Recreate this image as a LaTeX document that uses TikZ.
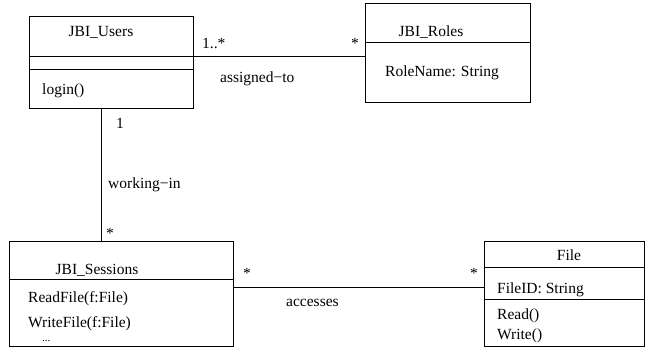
\documentclass[tikz,border=0pt]{standalone}
\usepackage{fontspec}
\setmainfont{Liberation Serif}
\begin{document}
\begin{tikzpicture}[x=1bp, y=-1bp,
        mybox/.style={draw, line width=0.9bp, inner sep=0pt, anchor=north west},
        mytext/.style={inner sep=0pt, anchor=base, font=\rmfamily\fontsize{15.5bp}{18bp}\selectfont},
        myleft/.style={mytext, anchor=base west}
    ]
    \useasboundingbox (0,0) rectangle (645,347);
    % class compartments: name/left/top/width/height
    \foreach \myname/\myx/\myy/\myw/\myh in {%
            usersName/29/16/164/40, usersAttr/29/56/164/13, usersOps/29/69/164/39,
            rolesName/365/3/165/39, rolesAttr/365/42/165/60,
            sessName/9/241/224/38, sessOps/9/279/224/66.5,
            fileName/484/241/160/26, fileAttr/484/267/160/32, fileOps/484/299/160/46.5} {
        \node [mybox, minimum width=\myw bp, minimum height=\myh bp] (\myname) at (\myx,\myy) {};
    }
    % class texts
    \node [mytext] (usersTitle) at (101,36) {JBI\_Users};
    \node [myleft] (usersLogin) at (42,94) {login()};
    \node [mytext] (rolesTitle) at (431,36) {JBI\_Roles};
    \node [myleft] (rolesRole) at (385,76) {RoleName: String};
    \node [mytext] (sessTitle) at (97,274) {JBI\_Sessions};
    \node [myleft] (sessRead) at (28,302) {ReadFile(f:File)};
    \node [myleft] (sessWrite) at (28,327) {WriteFile(f:File)};
    \node [myleft, font=\rmfamily\fontsize{11bp}{12bp}\selectfont] (sessMore) at (42,341) {...};
    \node [mytext] (fileTitle) at (569,260) {File};
    \node [myleft] (fileId) at (497,293) {FileID: String};
    \node [myleft] (fileRead) at (497,319) {Read()};
    \node [myleft] (fileWrite) at (497,339) {Write()};
    % associations
    \draw [line width=0.9bp] (usersName.south east) -- (usersName.south east -| rolesAttr.west);
    \draw [line width=0.9bp] ([xshift=-10bp]usersOps.south) -- ([xshift=-10bp]usersOps.south |- sessName.north);
    \draw [line width=0.9bp] ([yshift=-8bp]sessOps.north east) -- ([yshift=-8bp]sessOps.north east -| fileAttr.west);
    % multiplicities and role names
    \node [myleft] (multUsers) at (202,48) {1..*};
    \node [myleft] (multRoles) at (351,48) {*};
    \node [myleft] (assigned) at (220,82) {assigned−to};
    \node [myleft] (multOne) at (116,128) {1};
    \node [myleft] (working) at (108,188) {working−in};
    \node [myleft] (multSess) at (106,238) {*};
    \node [myleft] (multAcc) at (243,278) {*};
    \node [myleft] (multFile) at (470,278) {*};
    \node [myleft] (accesses) at (286,306) {accesses};
\end{tikzpicture}
\end{document}
